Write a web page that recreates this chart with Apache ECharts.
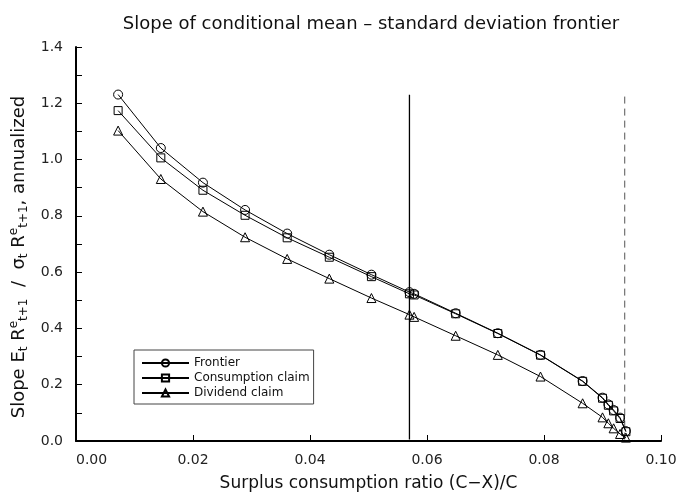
<!DOCTYPE html>
<html>
<head>
<meta charset="utf-8">
<script src="https://cdn.jsdelivr.net/npm/echarts@6/dist/echarts.min.js"></script>
<style>
html,body{margin:0;padding:0;background:#fff;}
#main{width:678px;height:492px;}
</style>
</head>
<body>
<div id="main"></div>
<script>
// ---- data ----
var surplusRatio = [0.0072, 0.0145, 0.0217, 0.0289, 0.0361, 0.0433, 0.0505, 0.0570, 0.0578, 0.0649, 0.0721, 0.0794, 0.0866, 0.0900, 0.0910, 0.0919, 0.0930, 0.0940];
var frontier     = [1.231, 1.041, 0.918, 0.821, 0.737, 0.662, 0.591, 0.529, 0.523, 0.454, 0.383, 0.306, 0.213, 0.154, 0.130, 0.110, 0.083, 0.035];
var consumption  = [1.174, 1.006, 0.891, 0.802, 0.722, 0.653, 0.584, 0.523, 0.519, 0.452, 0.382, 0.305, 0.212, 0.152, 0.127, 0.107, 0.080, 0.033];
var dividend     = [1.103, 0.931, 0.815, 0.724, 0.647, 0.577, 0.508, 0.449, 0.441, 0.374, 0.306, 0.229, 0.134, 0.084, 0.063, 0.045, 0.025, 0.012];
var solidLineX = 0.0570;
var dashedLineX = 0.0938;
var refLineY = [0.005, 1.23];
var seriesNames = ['Frontier', 'Consumption claim', 'Dividend claim'];

function pairs(xs, ys) { return xs.map(function (x, i) { return [x, ys[i]]; }); }

var FONT = 'DejaVu Sans';
var chart = echarts.init(document.getElementById('main'), null, {renderer: 'canvas'});

function markerSeries(name, ys, symbol, size) {
  return {
    name: name, type: 'line', data: pairs(surplusRatio, ys),
    symbol: symbol, symbolSize: size, showAllSymbol: true,
    lineStyle: {color: '#000', width: 1},
    itemStyle: {color: 'rgba(0,0,0,0)', borderColor: '#000', borderWidth: 1},
    emphasis: {disabled: true}, z: 3
  };
}

chart.setOption({
  animation: false,
  backgroundColor: '#fff',
  title: {
    text: 'Slope of conditional mean \u2013 standard deviation frontier',
    left: 366, top: 10, textAlign: 'center',
    textStyle: {fontFamily: FONT, fontSize: 18, fontWeight: 'normal', color: '#111'}
  },
  legend: {
    data: seriesNames,
    orient: 'vertical', left: 134, top: 350,
    padding: [7, 4, 5, 7], itemGap: 3, itemWidth: 47, itemHeight: 9,
    borderColor: '#444', borderWidth: 1,
    textStyle: {fontFamily: FONT, fontSize: 12, color: '#111'}
  },
  grid: {left: 76, right: 17, top: 47, bottom: 51, containLabel: false, outerBoundsMode: 'none'},
  xAxis: {
    type: 'value', min: 0, max: 0.1, interval: 0.02,
    name: 'Surplus consumption ratio (C\u2212X)/C',
    nameLocation: 'middle', nameGap: 34,
    nameTextStyle: {fontFamily: FONT, fontSize: 17, color: '#111'},
    axisLine: {onZero: false, lineStyle: {color: '#000', width: 2}},
    axisTick: {inside: true, length: 6, lineStyle: {color: '#000', width: 1}},
    axisLabel: {margin: 12, fontFamily: FONT, fontSize: 14, color: '#222', alignMinLabel: 'left',
      formatter: function (v) { return v.toFixed(2); }},
    splitLine: {show: false}
  },
  yAxis: {
    type: 'value', min: 0, max: 1.4, interval: 0.2,
    name: 'Slope E{s|t} R{p|e}{s|t+1}  /  \u03c3{s|t} R{p|e}{s|t+1}, annualized',
    nameLocation: 'middle', nameRotate: 90, nameGap: 34,
    nameTextStyle: {fontFamily: FONT, fontSize: 18, color: '#111', lineHeight: 22, padding: [0, 26, 0, 0],
      rich: {
        s: {fontFamily: FONT, fontSize: 12, color: '#111', verticalAlign: 'bottom', lineHeight: 22},
        p: {fontFamily: FONT, fontSize: 12, color: '#111', verticalAlign: 'top', lineHeight: 22}
      }},
    axisLine: {show: true, onZero: false, lineStyle: {color: '#000', width: 2}},
    axisTick: {inside: true, length: 6, lineStyle: {color: '#000', width: 1}},
    minorTick: {show: true, splitNumber: 2, length: 6, lineStyle: {color: '#000', width: 1}},
    axisLabel: {margin: 13, fontFamily: FONT, fontSize: 14, color: '#222',
      formatter: function (v) { return v.toFixed(1); }},
    splitLine: {show: false}
  },
  series: [
    markerSeries(seriesNames[0], frontier, 'circle', 9),
    markerSeries(seriesNames[1], consumption, 'rect', 8),
    markerSeries(seriesNames[2], dividend, 'triangle', 9),
    {
      type: 'line', data: [[solidLineX, refLineY[0]], [solidLineX, refLineY[1]]],
      symbol: 'none', lineStyle: {color: '#000', width: 1.3}, z: 2, silent: true
    },
    {
      type: 'line', data: [[dashedLineX, refLineY[0]], [dashedLineX, refLineY[1]]],
      symbol: 'none', lineStyle: {color: '#555', width: 1, type: [7, 5]}, z: 2, silent: true
    }
  ]
});
</script>
</body>
</html>
